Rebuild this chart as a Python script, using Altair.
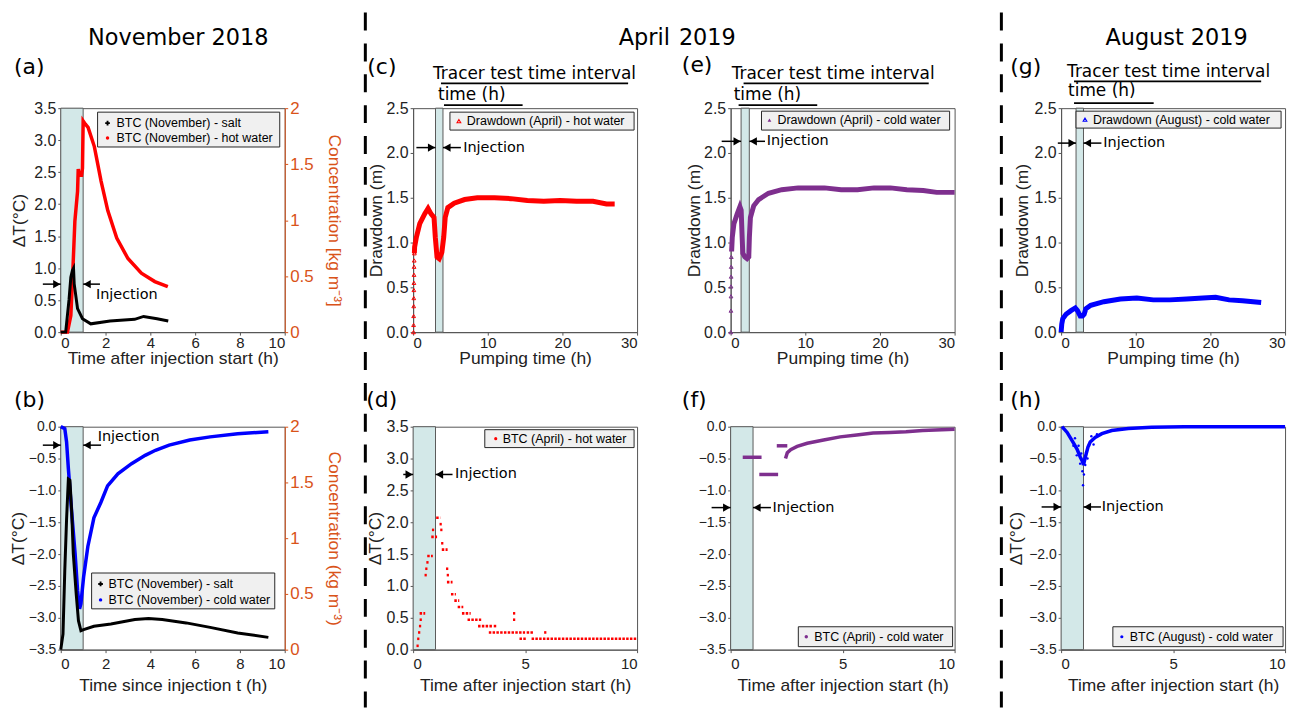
import altair as alt
import pandas as pd

# ------------------------------------------------------------------ data
# (a) November 2018: hot water dT (°C, left axis) and salt BTC (kg m-3, right axis)
a_hot_t = [0.0, 0.30, 0.45, 0.52, 0.63, 0.75, 0.78, 0.82, 0.93, 0.97, 1.00, 1.10, 1.22,
           1.50, 1.80, 2.10, 2.50, 3.00, 3.60, 4.20, 4.78]
a_hot_dT = [0.0, 0.0, 0.26, 0.79, 1.73, 2.20, 2.55, 2.45, 2.45, 2.56, 3.30, 3.25, 3.20,
            2.90, 2.36, 1.90, 1.47, 1.15, 0.92, 0.79, 0.71]
a_salt_t = [0.0, 0.22, 0.37, 0.45, 0.52, 0.57, 0.60, 0.75, 0.97, 1.34, 2.20, 3.30, 3.70, 4.30, 4.80]
a_salt_c = [0.0, 0.0, 0.29, 0.49, 0.55, 0.57, 0.43, 0.21, 0.12, 0.074, 0.10, 0.114, 0.14, 0.12, 0.10]

# (b) November 2018: cold water dT (°C) and salt BTC (kg m-3)
b_cold_t = [0.0, 0.18, 0.26, 0.34, 0.49, 0.64, 0.75, 0.84, 0.90, 1.02, 1.21, 1.48, 1.79, 2.09,
            2.55, 3.16, 3.77, 4.23, 4.84, 5.76, 6.67, 7.90, 9.27]
b_cold_dT = [0.0, -0.03, -0.24, -0.66, -1.35, -1.99, -2.57, -2.86, -2.78, -2.36, -1.88, -1.43,
             -1.19, -0.93, -0.74, -0.58, -0.45, -0.37, -0.29, -0.21, -0.16, -0.11, -0.08]
b_salt_t = [0.0, 0.10, 0.18, 0.26, 0.34, 0.41, 0.49, 0.56, 0.69, 0.79, 0.90, 1.02, 1.48, 2.24,
            3.31, 3.92, 4.53, 5.60, 6.67, 7.90, 9.27]
b_salt_c = [0.0, 0.14, 0.71, 1.17, 1.53, 1.52, 1.23, 0.86, 0.50, 0.26, 0.17, 0.18, 0.21, 0.23,
            0.27, 0.28, 0.27, 0.24, 0.20, 0.15, 0.11]

# (c) April 2019 hot water: drawdown (m) vs pumping time (h)
c_rise_t = [0.05, 0.06, 0.07, 0.08, 0.09, 0.10, 0.11, 0.12, 0.13, 0.15, 0.17]
c_rise_s = [0.0, 0.08, 0.18, 0.29, 0.38, 0.47, 0.55, 0.64, 0.73, 0.80, 0.88]
c_t = [0.17, 0.20, 0.44, 0.89, 1.55, 2.00, 2.40, 2.80, 2.97, 3.20, 3.50, 3.85, 4.10, 4.30, 4.65,
       5.50, 6.90, 8.60, 10.9, 13.1, 15.3, 17.5, 19.7, 21.9, 24.1, 25.9, 27.0]
c_s = [0.88, 0.95, 1.06, 1.21, 1.32, 1.38, 1.32, 1.28, 1.06, 0.84, 0.82, 0.89, 1.06, 1.28, 1.39,
       1.44, 1.48, 1.50, 1.50, 1.49, 1.47, 1.46, 1.47, 1.46, 1.46, 1.43, 1.43]

# (d) April 2019 hot water BTC: runs of readings at quantised dT levels
d_t0 = [0.15, 0.18, 0.22, 0.26, 0.29, 0.29, 0.51, 0.54, 0.59, 0.63, 0.84, 0.81, 1.03, 1.18, 1.21,
        1.25, 1.28, 1.47, 1.50, 1.51, 1.69, 1.84, 1.99, 2.18, 2.43, 2.90, 3.60, 3.38, 5.07, 5.85,
        4.46, 4.46, 4.75, 5.29]
d_t1 = [0.25, 0.28, 0.32, 0.36, 0.39, 0.54, 0.61, 0.64, 0.69, 0.88, 0.94, 1.07, 1.21, 1.28, 1.31,
        1.35, 1.54, 1.57, 1.60, 1.76, 1.91, 2.06, 2.24, 2.57, 3.04, 3.53, 3.75, 5.00, 5.37, 5.95,
        4.56, 4.56, 5.07, 10.0]
d_dT = [0.06, 0.17, 0.27, 0.37, 0.47, 0.57, 1.17, 1.27, 1.37, 1.47, 1.88, 1.77, 2.07, 1.97, 1.88,
        1.67, 1.57, 1.27, 1.17, 1.06, 0.87, 0.77, 0.67, 0.57, 0.47, 0.37, 0.37, 0.27, 0.27, 0.27,
        0.57, 0.47, 0.17, 0.17]

# (e) April 2019 cold water: drawdown (m)
e_rise_t = [0.02, 0.04, 0.05, 0.06, 0.07, 0.08, 0.09]
e_rise_s = [0.0, 0.24, 0.40, 0.51, 0.62, 0.73, 0.84]
e_t = [0.13, 0.22, 0.44, 0.88, 1.24, 1.41, 1.54, 1.63, 1.90, 2.20, 2.43, 2.51, 2.65, 3.09, 3.75,
       5.07, 6.84, 9.04, 12.57, 14.8, 17.0, 19.2, 21.4, 23.6, 25.8, 27.6, 30.0]
e_s = [0.90, 1.06, 1.21, 1.32, 1.40, 1.36, 1.06, 0.88, 0.84, 0.82, 0.84, 1.06, 1.28, 1.41, 1.48,
       1.55, 1.59, 1.61, 1.61, 1.59, 1.59, 1.61, 1.61, 1.59, 1.58, 1.56, 1.56]

# (f) April 2019 cold water BTC
f_seg_t0 = [0.54, 1.28, 2.06]
f_seg_t1 = [1.38, 2.12, 2.53]
f_seg_dT = [-0.48, -0.75, -0.30]
f_t = [2.45, 2.53, 2.68, 2.97, 3.42, 4.15, 4.89, 5.63, 6.36, 7.10, 7.83, 8.57, 10.0]
f_dT = [-0.50, -0.41, -0.36, -0.31, -0.26, -0.21, -0.16, -0.13, -0.10, -0.09, -0.08, -0.06, -0.04]

# (g) August 2019 cold water: drawdown (m)
g_t = [0.0, 0.09, 0.22, 0.66, 1.32, 1.90, 2.20, 2.56, 2.87, 3.09, 3.31, 3.97, 5.73, 7.94, 10.15,
       12.35, 14.56, 16.8, 19.0, 20.7, 22.5, 24.3, 26.8]
g_s = [0.0, 0.09, 0.15, 0.20, 0.24, 0.27, 0.24, 0.18, 0.18, 0.20, 0.26, 0.30, 0.34, 0.37, 0.38,
       0.36, 0.36, 0.37, 0.38, 0.39, 0.36, 0.35, 0.33]

# (h) August 2019 cold water BTC
h_t = [0.04, 0.27, 0.49, 0.71, 0.86, 0.96, 1.00, 1.08, 1.20, 1.30, 1.52, 1.82, 2.26, 3.00, 4.04, 5.50, 10.0]
h_dT = [0.0, -0.09, -0.22, -0.35, -0.48, -0.55, -0.60, -0.48, -0.32, -0.24, -0.17, -0.11, -0.06,
        -0.03, -0.01, 0.0, 0.0]
h_sc_t = [0.55, 0.62, 0.70, 0.78, 0.85, 0.90, 0.95, 0.98, 1.02, 1.08, 1.12, 1.18, 1.25, 1.35, 1.45, 1.60]
h_sc_dT = [-0.30, -0.18, -0.45, -0.30, -0.58, -0.42, -0.70, -0.92, -0.75, -0.60, -0.40, -0.50,
           -0.30, -0.15, -0.28, -0.12]

# legend labels
leg_a = ["BTC (November) - salt", "BTC (November) - hot water"]
leg_b = ["BTC (November) - salt", "BTC (November) - cold water"]
leg_c = "Drawdown (April) - hot water"
leg_d = "BTC (April) - hot water"
leg_e = "Drawdown (April) - cold water"
leg_f = "BTC (April) - cold water"
leg_g = "Drawdown (August) - cold water"
leg_h = "BTC (August) - cold water"

# ------------------------------------------------------------------ styling / layout
RED, BLUE, PURPLE, ORANGE = "#FF0000", "#0000FF", "#7E2F8E", "#D95319"
BAND = "#D3E8E8"
FA, FT = "Liberation Sans", "DejaVu Sans"
W, H1, H2 = 225, 225, 224
T1, B1, T2, B2 = 98, 47, 46, 60
ONE = pd.DataFrame({"k": [0]})
DT = "ΔT(°C)"


def txt(s, x, y, size, font=FT, align="left", baseline="middle", color="black"):
    return alt.Chart(ONE).mark_text(text=s, align=align, baseline=baseline, fontSize=size,
                                    font=font, color=color).encode(x=alt.value(x), y=alt.value(y))


def seg(x0, x1, y0, y1, w=1.8, dash=None):
    kw = dict(color="black", strokeWidth=w)
    if dash is not None:
        kw["strokeDash"] = dash
    return alt.Chart(ONE).mark_rule(**kw).encode(x=alt.value(x0), x2=alt.value(x1),
                                                 y=alt.value(y0), y2=alt.value(y1))


def pin(L, R, T, B, H):
    return alt.Chart(ONE).mark_rect(opacity=0).encode(
        x=alt.value(-L), x2=alt.value(W + R), y=alt.value(-T), y2=alt.value(H + B))


def legend_box(x0, x1, y0, y1, items, sx, tx):
    out = [alt.Chart(ONE).mark_rect(fill="#F0F0F0", stroke="#262626", strokeWidth=1).encode(
        x=alt.value(x0), x2=alt.value(x1), y=alt.value(y0), y2=alt.value(y1))]
    for label, color, shape, filled, size, cy in items:
        out.append(alt.Chart(ONE).mark_point(shape=shape, filled=filled, color=color, size=size,
                                             opacity=1, strokeWidth=1.1).encode(
            x=alt.value(sx), y=alt.value(cy)))
        out.append(txt(label, tx, cy, 12.5, font=FA))
    return out


def factories(xdom, ydom, xticks, yticks, xtitle, ytitle, row, title_x, lsize=16):
    xs = alt.Scale(domain=xdom, nice=False, zero=False)
    ys = alt.Scale(domain=ydom, nice=False, zero=False)
    xa = alt.Axis(values=xticks, format="d", title=xtitle, labelFontSize=15,
                  titleY=(18 if row == 1 else 27), labelPadding=(0 if row == 1 else 4))
    ya = alt.Axis(values=yticks, format=".1f", title=ytitle, titleX=title_x, labelFontSize=lsize)

    def X(f):
        return alt.X(f, type="quantitative", scale=xs, axis=xa)

    def Y(f):
        return alt.Y(f, type="quantitative", scale=ys, axis=ya)
    return X, Y


def band_layer(X, H, b0, b1):
    return alt.Chart(pd.DataFrame({"b0": [b0], "b1": [b1]})).mark_rect(
        fill=BAND, stroke="#5a5a5a", strokeWidth=1).encode(
        x=X("b0"), x2=alt.X2("b1"), y=alt.value(0), y2=alt.value(H))


def injection(X, Y, left, right, ay, tx, ty):
    arr = alt.Chart(pd.DataFrame({"x0": [left[0], right[0]], "x1": [left[1], right[1]],
                                  "y": [ay, ay]})).mark_rule(color="black", strokeWidth=1.5).encode(
        x=X("x0"), x2=alt.X2("x1"), y=Y("y"))
    h1 = alt.Chart(pd.DataFrame({"x": [left[1]], "y": [ay]})).mark_point(
        shape="triangle-right", filled=True, color="black", size=70, opacity=1, xOffset=-4).encode(
        x=X("x"), y=Y("y"))
    h2 = alt.Chart(pd.DataFrame({"x": [right[0]], "y": [ay]})).mark_point(
        shape="triangle-left", filled=True, color="black", size=70, opacity=1, xOffset=4).encode(
        x=X("x"), y=Y("y"))
    t = alt.Chart(pd.DataFrame({"x": [tx], "y": [ty]})).mark_text(
        text="Injection", align="left", baseline="middle", font=FT, fontSize=14.5, color="black").encode(
        x=X("x"), y=Y("y"))
    return [arr, h1, h2, t]


def right_axis(title):
    return alt.Axis(orient="right", values=[0, 0.5, 1, 1.5, 2], format="~g", title=title,
                    labelColor=ORANGE, titleColor=ORANGE, domainColor=ORANGE, tickColor=ORANGE,
                    labelFontSize=17, titleFontSize=17.5, titlePadding=11)


def tracer(x_t, x_ul1, x_tm, x_ul2, ys):
    y1, yu1, y2, yu2 = ys
    return [txt("Tracer test time interval", x_t, y1, 17),
            seg(x_ul1[0], x_ul1[1], yu1, yu1),
            txt("time (h)", x_tm, y2, 17),
            seg(x_ul2[0], x_ul2[1], yu2, yu2)]


yt_pos = [0, 0.5, 1.0, 1.5, 2.0, 2.5, 3.0, 3.5]
yt_neg = [-3.5, -3.0, -2.5, -2.0, -1.5, -1.0, -0.5, 0.0]
yt_dd = [0, 0.5, 1.0, 1.5, 2.0, 2.5]
conc = alt.Scale(domain=[0, 2], nice=False, zero=False)

# column pins (left / right extents around each plot area)
LA, RA = 52, 77
LC, RC = 50, 39
LE, RE = 53, 43
LG, RG = 62, 12

# ------------------------------------------------------------------ (a)
X, Y = factories([0, 10], [0, 3.5], [0, 2, 4, 6, 8, 10], yt_pos,
                 "Time after injection start (h)", DT, 1, -32)
hot = alt.Chart(pd.DataFrame({"t": a_hot_t, "v": a_hot_dT})).mark_line(
    color=RED, strokeWidth=3.5).encode(x=X("t"), y=Y("v"))
salt_a = alt.Chart(pd.DataFrame({"t": a_salt_t, "c": a_salt_c})).mark_line(
    color="black", strokeWidth=3).encode(
    x=X("t"), y=alt.Y("c", type="quantitative", scale=conc, axis=right_axis("Concentration [kg m⁻³]")))
main_a = alt.layer(band_layer(X, H1, 0, 1), hot,
                   *injection(X, Y, (-0.8, 0.0), (1.0, 1.75), 0.75, 1.57, 0.58))
panel_a = alt.layer(
    pin(LA, RA, T1, B1, H1), main_a, salt_a,
    *legend_box(37, 220, 4, 39, [(leg_a[0], "black", "cross", True, 22, 15),
                                 (leg_a[1], RED, "circle", True, 12, 30)], 47, 56),
    txt("(a)", -47, -41, 22), txt("November 2018", 118, -63, 22.5, align="center", baseline="alphabetic"),
).resolve_scale(y="independent").properties(width=W, height=H1)

# ------------------------------------------------------------------ (b)
X, Y = factories([0, 10], [-3.5, 0], [0, 2, 4, 6, 8, 10], yt_neg,
                 "Time since injection t (h)", DT, 2, -33, 14)
cold_b = alt.Chart(pd.DataFrame({"t": b_cold_t, "v": b_cold_dT})).mark_line(
    color=BLUE, strokeWidth=3.5).encode(x=X("t"), y=Y("v"))
salt_b = alt.Chart(pd.DataFrame({"t": b_salt_t, "c": b_salt_c})).mark_line(
    color="black", strokeWidth=3).encode(
    x=X("t"), y=alt.Y("c", type="quantitative", scale=conc, axis=right_axis("Concentration (kg m⁻³)")))
main_b = alt.layer(band_layer(X, H2, 0, 1), cold_b,
                   *injection(X, Y, (-0.8, 0.0), (1.0, 1.8), -0.29, 1.65, -0.16))
panel_b = alt.layer(
    pin(LA, RA, T2, B2, H2), main_b, salt_b,
    *legend_box(31, 215, 147, 183, [(leg_b[0], "black", "cross", True, 22, 158),
                                    (leg_b[1], BLUE, "circle", True, 12, 174)], 40, 48),
    txt("(b)", -47, -27, 22),
).resolve_scale(y="independent").properties(width=W, height=H2)

# ------------------------------------------------------------------ (c)
X, Y = factories([0, 30], [0, 2.5], [0, 10, 20, 30], yt_dd, "Pumping time (h)", "Drawdown (m)", 1, -28)
rise_c = alt.Chart(pd.DataFrame({"t": c_rise_t, "s": c_rise_s})).mark_point(
    shape="triangle-up", filled=False, color=RED, size=14, strokeWidth=1, opacity=1).encode(x=X("t"), y=Y("s"))
line_c = alt.Chart(pd.DataFrame({"t": c_t, "s": c_s})).mark_line(
    color=RED, strokeWidth=5).encode(x=X("t"), y=Y("s"))
panel_c = alt.layer(
    pin(LC, RC, T1, B1, H1), band_layer(X, H1, 3.0, 4.0), rise_c, line_c,
    *injection(X, Y, (0.44, 3.0), (4.0, 6.4), 2.06, 6.7, 2.06),
    *legend_box(37, 222, 4, 22, [(leg_c, RED, "triangle-up", False, 14, 13)], 46, 54),
    txt("(c)", -46, -41, 22), txt("April", 258, -63, 22.5, align="right", baseline="alphabetic"),
    *tracer(20, (28, 216), 25, (31, 110), (-34, -25, -13, -3)),
    seg(-48, -48, -96, H1 + 45, w=3, dash=[18, 13]),
).properties(width=W, height=H1)

# ------------------------------------------------------------------ (d)
X, Y = factories([0, 10], [0, 3.5], [0, 5, 10], yt_pos, "Time after injection start (h)", DT, 2, -29)
runs_d = alt.Chart(pd.DataFrame({"t0": d_t0, "t1": d_t1, "v": d_dT})).mark_rule(
    color=RED, strokeWidth=2.6, strokeDash=[2.5, 1.3]).encode(x=X("t0"), x2=alt.X2("t1"), y=Y("v"))
panel_d = alt.layer(
    pin(LC, RC, T2, B2, H2), band_layer(X, H2, 0, 1), runs_d,
    *injection(X, Y, (-0.44, 0.0), (1.0, 1.76), 2.75, 1.87, 2.75),
    *legend_box(72, 222, 3, 21, [(leg_d, RED, "circle", True, 10, 12)], 83, 90),
    txt("(d)", -47, -27, 22),
    seg(-48, -48, -44, H2 + 58, w=3, dash=[18, 13]),
).properties(width=W, height=H2)

# ------------------------------------------------------------------ (e)
X, Y = factories([0, 30], [0, 2.5], [0, 10, 20, 30], yt_dd, "Pumping time (h)", "Drawdown (m)", 1, -27)
rise_e = alt.Chart(pd.DataFrame({"t": e_rise_t, "s": e_rise_s})).mark_point(
    shape="triangle-up", filled=False, color=PURPLE, size=14, strokeWidth=1, opacity=1).encode(x=X("t"), y=Y("s"))
line_e = alt.Chart(pd.DataFrame({"t": e_t, "s": e_s})).mark_line(
    color=PURPLE, strokeWidth=5).encode(x=X("t"), y=Y("s"))
panel_e = alt.layer(
    pin(LE, RE, T1, B1, H1), band_layer(X, H1, 1.4, 2.5), rise_e, line_e,
    *injection(X, Y, (-1.2, 1.4), (2.5, 4.6), 2.13, 4.85, 2.13),
    *legend_box(31, 220, 3, 22, [(leg_e, PURPLE, "triangle-up", True, 14, 12)], 39, 47),
    txt("(e)", -49, -43, 22), txt("2019", -52, -63, 22.5, align="left", baseline="alphabetic"),
    *tracer(1, (13, 199), 3, (8, 87), (-34, -25, -13, -3)),
).properties(width=W, height=H1)

# ------------------------------------------------------------------ (f)
X, Y = factories([0, 10], [-3.5, 0], [0, 5, 10], yt_neg, "Time after injection start (h)", None, 2, -30, 14)
runs_f = alt.Chart(pd.DataFrame({"t0": f_seg_t0, "t1": f_seg_t1, "v": f_seg_dT})).mark_rule(
    color=PURPLE, strokeWidth=3.5).encode(x=X("t0"), x2=alt.X2("t1"), y=Y("v"))
line_f = alt.Chart(pd.DataFrame({"t": f_t, "v": f_dT})).mark_line(
    color=PURPLE, strokeWidth=3.5).encode(x=X("t"), y=Y("v"))
panel_f = alt.layer(
    pin(LE, RE, T2, B2, H2), band_layer(X, H2, 0, 1), runs_f, line_f,
    *injection(X, Y, (-0.85, 0.0), (1.0, 1.8), -1.27, 1.87, -1.27),
    *legend_box(68, 223, 201, 221, [(leg_f, PURPLE, "circle", True, 12, 211)], 76, 84),
    txt("(f)", -49, -27, 22),
).properties(width=W, height=H2)

# ------------------------------------------------------------------ (g)
X, Y = factories([0, 30], [0, 2.5], [0, 10, 20, 30], yt_dd, "Pumping time (h)", "Drawdown (m)", 1, -30)
line_g = alt.Chart(pd.DataFrame({"t": g_t, "s": g_s})).mark_line(
    color=BLUE, strokeWidth=5).encode(x=X("t"), y=Y("s"))
panel_g = alt.layer(
    pin(LG, RG, T1, B1, H1), band_layer(X, H1, 2.0, 3.0), line_g,
    *injection(X, Y, (-0.44, 2.0), (3.0, 5.4), 2.11, 5.65, 2.11),
    *legend_box(15, 221, 3, 20, [(leg_g, BLUE, "triangle-up", False, 14, 11.5)], 24, 32),
    txt("(g)", -51, -41, 22), txt("August 2019", 116, -63, 22.5, align="center", baseline="alphabetic"),
    *tracer(6, (13, 201), 7, (13, 93), (-36, -27, -17, -5)),
    seg(-60, -60, -96, H1 + 45, w=3, dash=[18, 13]),
).properties(width=W, height=H1)

# ------------------------------------------------------------------ (h)
X, Y = factories([0, 10], [-3.5, 0], [0, 5, 10], yt_neg, "Time after injection start (h)", DT, 2, -36, 14)
line_h = alt.Chart(pd.DataFrame({"t": h_t, "v": h_dT})).mark_line(
    color=BLUE, strokeWidth=3.5).encode(x=X("t"), y=Y("v"))
sc_h = alt.Chart(pd.DataFrame({"t": h_sc_t, "v": h_sc_dT})).mark_point(
    shape="circle", filled=True, color=BLUE, size=6, opacity=1).encode(x=X("t"), y=Y("v"))
panel_h = alt.layer(
    pin(LG, RG, T2, B2, H2), band_layer(X, H2, 0, 1), line_h, sc_h,
    *injection(X, Y, (-0.87, 0.0), (1.0, 1.78), -1.26, 1.82, -1.26),
    *legend_box(52, 223, 201, 221, [(leg_h, BLUE, "circle", True, 10, 211)], 61, 69),
    txt("(h)", -51, -27, 22),
    seg(-60, -60, -44, H2 + 58, w=3, dash=[18, 13]),
).properties(width=W, height=H2)

# ------------------------------------------------------------------ assemble
col_a = alt.vconcat(panel_a, panel_b, spacing=0)
col_c = alt.vconcat(panel_c, panel_d, spacing=0)
col_e = alt.vconcat(panel_e, panel_f, spacing=0)
col_g = alt.vconcat(panel_g, panel_h, spacing=0)

chart = alt.hconcat(col_a, col_c, col_e, col_g, spacing=0, padding=0).configure_view(
    stroke="#555555", strokeWidth=1
).configure_axis(
    labelFont=FA, labelFontSize=16, labelColor="#222222",
    titleFont=FA, titleFontSize=17.5, titleFontWeight="normal", titleColor="#222222",
    domainColor="#555555", tickColor="#555555", tickSize=3, grid=False, titlePadding=4,
)

chart.save("out.html", embed_options={"renderer": "svg", "actions": False})
